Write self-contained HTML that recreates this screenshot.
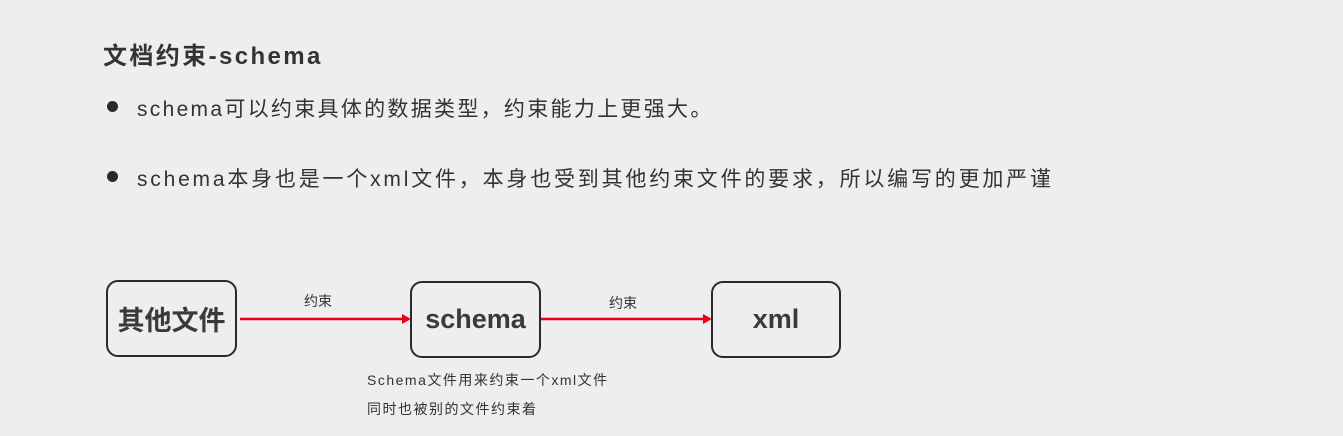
<!DOCTYPE html>
<html><head><meta charset="utf-8"><style>
body{margin:0;width:1343px;height:436px;background:#eeedef;position:relative;overflow:hidden;font-family:"Liberation Sans","Noto Sans CJK SC",sans-serif;color:#333}
.a{position:absolute;white-space:nowrap}
.box{position:absolute;border:2px solid #2a2a2a;border-radius:12px;box-sizing:border-box;display:flex;align-items:center;justify-content:center;font-weight:bold;font-size:27px;color:#3a3a3a}
.dot{position:absolute;width:11px;height:11px;border-radius:50%;background:#2a2a2a}
</style></head><body>
<div class="a" style="left:103px;top:36px;font-size:24px;font-weight:bold;color:#333;letter-spacing:2.4px">文档约束-schema</div>
<div class="dot" style="left:107px;top:101px"></div>
<div class="a" style="left:137px;top:93px;font-size:21px;letter-spacing:2.3px">schema可以约束具体的数据类型，约束能力上更强大。</div>
<div class="dot" style="left:107px;top:171px"></div>
<div class="a" style="left:137px;top:163px;font-size:21px;letter-spacing:2.8px">schema本身也是一个xml文件，本身也受到其他约束文件的要求，所以编写的更加严谨</div>
<div class="box" style="left:106px;top:280px;width:131px;height:77px">其他文件</div>
<div class="box" style="left:410px;top:281px;width:131px;height:77px">schema</div>
<div class="box" style="left:711px;top:281px;width:130px;height:77px">xml</div>
<svg class="a" style="left:0;top:0" width="1343" height="436">
<line x1="240" y1="319" x2="404" y2="319" stroke="#e8001c" stroke-width="2.5"/>
<polygon points="411,319 402,314 402,324" fill="#e8001c"/>
<line x1="541" y1="319" x2="705" y2="319" stroke="#e8001c" stroke-width="2.5"/>
<polygon points="712,319 703,314 703,324" fill="#e8001c"/>
</svg>
<div class="a" style="left:304px;top:291px;font-size:14px">约束</div>
<div class="a" style="left:609px;top:293px;font-size:14px">约束</div>
<div class="a" style="left:367px;top:370px;font-size:14px;letter-spacing:1.5px">Schema文件用来约束一个xml文件</div>
<div class="a" style="left:367px;top:399px;font-size:14px;letter-spacing:1.5px">同时也被别的文件约束着</div>
</body></html>
